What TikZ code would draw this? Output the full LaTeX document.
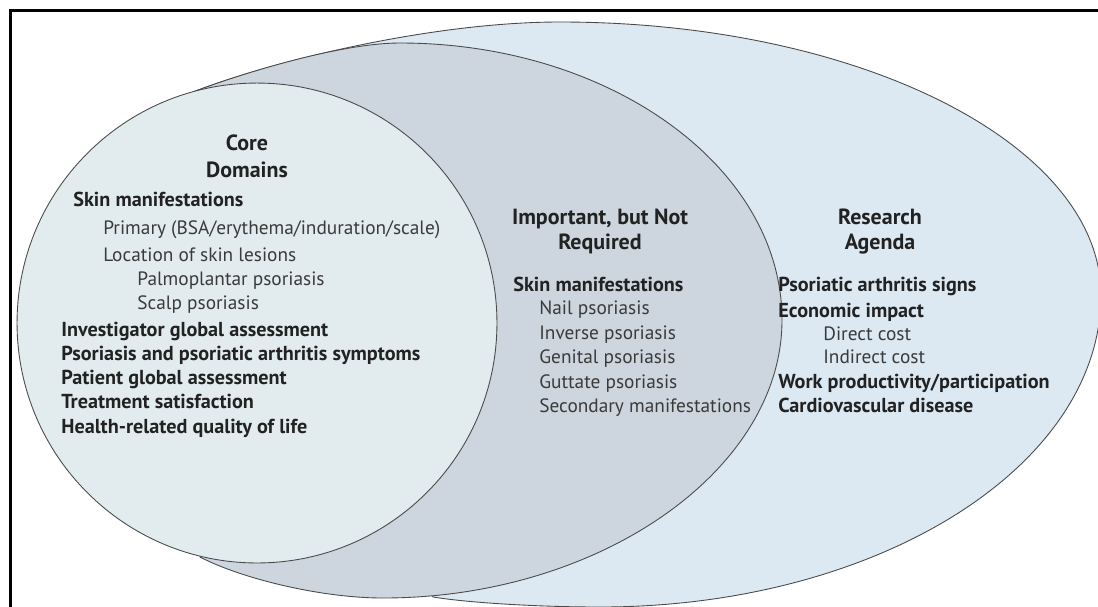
\documentclass[tikz,border=0pt]{standalone}
\usepackage{fontspec}
\setmainfont{PT Sans}
\definecolor{outerfill}{HTML}{DCE9F3}
\definecolor{midfill}{HTML}{CDD6DE}
\definecolor{corefill}{HTML}{E2ECEE}
\definecolor{edge}{HTML}{4A4A4A}
\definecolor{txtdark}{HTML}{222222}
\definecolor{txtreg}{HTML}{3A3A3A}
\begin{document}
\begin{tikzpicture}[x=0.02cm,y=-0.02cm,
  region/.style={draw=edge, line width=0.5pt},
  bodyb/.style={anchor=base west, inner sep=0pt, text=txtdark, font=\bfseries\fontsize{11.5}{13}\selectfont},
  bodyr/.style={anchor=base west, inner sep=0pt, text=txtreg, font=\fontsize{11}{13}\selectfont},
  ttl/.style={anchor=base, inner sep=0pt, text=txtdark, font=\bfseries\fontsize{12.5}{15}\selectfont},
  frameline/.style={draw=black, line width=1.2pt}]
\useasboundingbox (0,0) rectangle (1098,606);
\clip (0,0) rectangle (1098,606);
\fill[white] (0,0) rectangle (1098,606);
% outer region (Research agenda)
\path[region, fill=outerfill] (193,92) .. controls (270,62) and (430,22) .. (560,22)
  .. controls (859,22) and (1101,144) .. (1101,295)
  .. controls (1101,467) and (877,607) .. (600,607)
  .. controls (540,607) and (470,603) .. (433,597) -- cycle;
% middle region (Important, but not required)
\path[region, fill=midfill] (193,92) .. controls (240,74) and (340,43) .. (400,43)
  .. controls (610,43) and (782,167) .. (782,320)
  .. controls (782,470) and (600,598) .. (383,598)
  .. controls (320,598) and (240,578) .. (200,557) -- cycle;
% core region
\path[region, fill=corefill] (257,323) circle [radius=4.8cm];
% frame
\draw[frameline] (10.5,620) -- (10.5,10.5) -- (1110,10.5);

% Core domains
\node[ttl] (c1) at (247,150) {Core};
\node[ttl] (c2) at (247,177) {Domains};
\node[bodyb] (ca) at (73,206) {Skin manifestations};
\node[bodyr] (cb) at (103,234) {Primary (BSA/erythema/induration/scale)};
\node[bodyr] (cc) at (103,261) {Location of skin lesions};
\node[bodyr] (cd) at (137,285) {Palmoplantar psoriasis};
\node[bodyr] (ce) at (137,309) {Scalp psoriasis};
\node[bodyb] (cf) at (61,336) {Investigator global assessment};
\node[bodyb] (cg) at (61,360) {Psoriasis and psoriatic arthritis symptoms};
\node[bodyb] (ch) at (61,384) {Patient global assessment};
\node[bodyb] (ci) at (61,408) {Treatment satisfaction};
\node[bodyb] (cj) at (61,433) {Health-related quality of life};

% Important, but not required
\node[ttl] (m1) at (600,224) {Important, but Not};
\node[ttl] (m2) at (600,249) {Required};
\node[bodyb] (ma) at (513,291) {Skin manifestations};
\node[bodyr] (mb) at (539,314) {Nail psoriasis};
\node[bodyr] (mc) at (539,339) {Inverse psoriasis};
\node[bodyr] (md) at (539,363) {Genital psoriasis};
\node[bodyr] (me) at (539,388) {Guttate psoriasis};
\node[bodyr] (mf) at (539,412) {Secondary manifestations};

% Research agenda
\node[ttl] (r1) at (880,224) {Research};
\node[ttl] (r2) at (880,249) {Agenda};
\node[bodyb] (ra) at (778,291) {Psoriatic arthritis signs};
\node[bodyb] (rb) at (778,317) {Economic impact};
\node[bodyr] (rc) at (823,340) {Direct cost};
\node[bodyr] (rd) at (823,363) {Indirect cost};
\node[bodyb] (re) at (778,388) {Work productivity/participation};
\node[bodyb] (rf) at (778,412) {Cardiovascular disease};
\end{tikzpicture}
\end{document}
